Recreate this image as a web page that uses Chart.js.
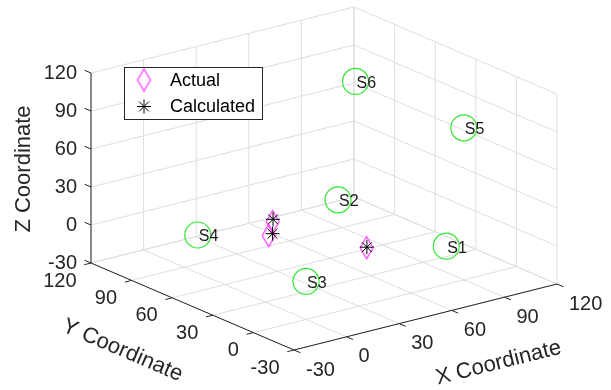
<!DOCTYPE html>
<html>
<head>
<meta charset="utf-8">
<script src="https://cdn.jsdelivr.net/npm/chart.js@4.4.0/dist/chart.umd.min.js"></script>
<style>
html,body{margin:0;padding:0;background:#fff;overflow:hidden}
#wrap{width:611px;height:390px;position:relative}
</style>
</head>
<body>
<div id="wrap"><canvas id="c" width="611" height="390"></canvas></div>
<script>
// ---------------- data ----------------
const axisTicks  = [-30, 0, 30, 60, 90, 120];
const tickLabels = ['-30', '0', '30', '60', '90', '120'];
const axisTitles = ['X Coordinate', 'Y Coordinate', 'Z Coordinate'];
const legendLabels = ['Actual', 'Calculated'];

const sensorNames = ['S1', 'S2', 'S3', 'S4', 'S5', 'S6'];
const sensorX = [80, 80, 0, 0, 90, 90];
const sensorY = [0, 80, 0, 80, 0, 80];
const sensorZ = [0, 0, 0, 0, 90, 90];

const actualX = [25, 35, 50];
const actualY = [60, 70, 20];
const actualZ = [0, 3, 0];

const calcX = [28, 36, 50.4];
const calcY = [61, 71, 20.3];
const calcZ = [0, 4, 0.2];

// ---------------- view (MATLAB default 3-D view, az -37.5, el 30) ----------------
const W = 611, H = 390;
const ORIGIN = [294, 350];       // screen position of the (xmin, ymin, zmin) corner
const EX = [263, -66];           // screen vector of the full x range
const EY = [-203, -87];          // screen vector of the full y range
const EZ = [0, -190];            // screen vector of the full z range
const LO = axisTicks[0], HI = axisTicks[axisTicks.length - 1], SPAN = HI - LO;

function proj(x, y, z) {
  const u = (x - LO) / SPAN, v = (y - LO) / SPAN, w = (z - LO) / SPAN;
  return {
    x: ORIGIN[0] + u * EX[0] + v * EY[0] + w * EZ[0],
    y: ORIGIN[1] + u * EX[1] + v * EY[1] + w * EZ[1]
  };
}
function unit(v, len) { const n = Math.hypot(v[0], v[1]); return [v[0] / n * len, v[1] / n * len]; }

const GRID = '#dedede';
const AXIS = '#262626';
const TEXT = '#262626';
const FONT = '"Liberation Sans", Arial, Helvetica, sans-serif';

const datasets = [];
function lineDS(pts, color, order) {
  datasets.push({
    data: pts, showLine: true, borderColor: color, borderWidth: 1,
    pointRadius: 0, pointHoverRadius: 0, fill: false, tension: 0, order: order
  });
}

// grid lines on the three back planes
axisTicks.forEach(t => {
  // floor z = LO
  lineDS([proj(t, LO, LO), proj(t, HI, LO)], GRID, 30);
  lineDS([proj(LO, t, LO), proj(HI, t, LO)], GRID, 30);
  // back-left wall y = HI
  lineDS([proj(t, HI, LO), proj(t, HI, HI)], GRID, 30);
  lineDS([proj(LO, HI, t), proj(HI, HI, t)], GRID, 30);
  // back-right wall x = HI
  lineDS([proj(HI, t, LO), proj(HI, t, HI)], GRID, 30);
  lineDS([proj(HI, LO, t), proj(HI, HI, t)], GRID, 30);
});

// axis lines
lineDS([proj(LO, HI, LO), proj(LO, HI, HI)], AXIS, 20);  // z axis
lineDS([proj(LO, HI, LO), proj(LO, LO, LO)], AXIS, 20);  // y axis
lineDS([proj(LO, LO, LO), proj(HI, LO, LO)], AXIS, 20);  // x axis

// tick marks
const zTickDir = unit(EY, 7);
const yTickDir = unit([-EX[0], -EX[1]], 7);
const xTickDir = unit([-EY[0], -EY[1]], 7);
axisTicks.forEach(t => {
  const pz = proj(LO, HI, t);
  lineDS([pz, {x: pz.x + zTickDir[0], y: pz.y + zTickDir[1]}], AXIS, 20);
  const py = proj(LO, t, LO);
  lineDS([py, {x: py.x + yTickDir[0], y: py.y + yTickDir[1]}], AXIS, 20);
  const px = proj(t, LO, LO);
  lineDS([px, {x: px.x + xTickDir[0], y: px.y + xTickDir[1]}], AXIS, 20);
});

// custom tall diamond marker (MATLAB 'd')
function makeDiamond() {
  const c = document.createElement('canvas');
  c.width = 17; c.height = 25;
  const g = c.getContext('2d');
  g.strokeStyle = '#ff33ff';
  g.lineWidth = 1.2;
  g.beginPath();
  g.moveTo(8.5, 1.5); g.lineTo(15, 12.5); g.lineTo(8.5, 23.5); g.lineTo(2, 12.5); g.closePath();
  g.stroke();
  return c;
}
const diamondImg = makeDiamond();

// sensors
datasets.push({
  data: sensorX.map((x, i) => proj(x, sensorY[i], sensorZ[i])),
  pointStyle: 'circle', pointRadius: 13, pointHoverRadius: 13,
  borderColor: '#33e633', backgroundColor: 'rgba(0,0,0,0)', borderWidth: 1.2,
  showLine: false, order: 10
});
// actual
datasets.push({
  data: actualX.map((x, i) => proj(x, actualY[i], actualZ[i])),
  pointStyle: diamondImg, pointRadius: 10, pointHoverRadius: 10,
  showLine: false, order: 5
});
// calculated
datasets.push({
  data: calcX.map((x, i) => proj(x, calcY[i], calcZ[i])),
  pointStyle: 'star', pointRadius: 7, pointHoverRadius: 7,
  borderColor: '#000000', backgroundColor: '#000000', borderWidth: 1,
  showLine: false, order: 1
});

// ---------------- text / legend plugin ----------------
const textPlugin = {
  id: 'text3d',
  afterDraw(chart) {
    const ctx = chart.ctx;
    const sx = chart.scales.x, sy = chart.scales.y;
    const P = (p) => ({x: sx.getPixelForValue(p.x), y: sy.getPixelForValue(p.y)});
    ctx.save();

    // sensor labels
    ctx.fillStyle = '#1a1a1a';
    ctx.font = '16px ' + FONT;
    ctx.textAlign = 'left'; ctx.textBaseline = 'middle';
    sensorNames.forEach((n, i) => {
      const p = P(proj(sensorX[i], sensorY[i], sensorZ[i]));
      ctx.fillText(n, p.x + 1, p.y + 2);
    });

    // tick labels
    ctx.fillStyle = TEXT;
    ctx.font = '20px ' + FONT;
    axisTicks.forEach((t, i) => {
      const pz = P(proj(LO, HI, t));
      ctx.textAlign = 'right'; ctx.textBaseline = 'middle';
      ctx.fillText(tickLabels[i], pz.x - 14, pz.y);
      const py = P(proj(LO, t, LO));
      ctx.fillText(tickLabels[i], py.x - 14.5, py.y + 18);
      const px = P(proj(t, LO, LO));
      ctx.textAlign = 'left';
      ctx.fillText(tickLabels[i], px.x + 12, px.y + 20);
    });

    // axis titles
    ctx.font = '22px ' + FONT;
    ctx.textAlign = 'center'; ctx.textBaseline = 'middle';
    const xm = P(proj((LO + HI) / 2, LO, LO));
    ctx.save(); ctx.translate(xm.x + 73, xm.y + 46);
    ctx.rotate(Math.atan2(EX[1], EX[0])); ctx.fillText(axisTitles[0], 0, 0); ctx.restore();
    const ym = P(proj(LO, (LO + HI) / 2, LO));
    ctx.save(); ctx.translate(ym.x - 70, ym.y + 44);
    ctx.rotate(Math.atan2(-EY[1], -EY[0])); ctx.fillText(axisTitles[1], 0, 0); ctx.restore();
    const zm = P(proj(LO, HI, (LO + HI) / 2));
    ctx.save(); ctx.translate(zm.x - 67, zm.y + 1);
    ctx.rotate(-Math.PI / 2); ctx.fillText(axisTitles[2], 0, 0); ctx.restore();

    // legend
    const bx = 124.5, by = 67.5, bw = 138, bh = 52;
    ctx.fillStyle = '#ffffff';
    ctx.fillRect(bx, by, bw, bh);
    ctx.strokeStyle = AXIS; ctx.lineWidth = 1;
    ctx.strokeRect(bx, by, bw, bh);
    ctx.drawImage(diamondImg, 144 - diamondImg.width / 2, 80 - diamondImg.height / 2);
    // asterisk
    const ax = 144, ay = 106.5, r = 7;
    ctx.strokeStyle = '#000'; ctx.lineWidth = 1;
    ctx.beginPath();
    ctx.moveTo(ax - r, ay); ctx.lineTo(ax + r, ay);
    ctx.moveTo(ax, ay - r); ctx.lineTo(ax, ay + r);
    const d = r * Math.SQRT1_2;
    ctx.moveTo(ax - d, ay - d); ctx.lineTo(ax + d, ay + d);
    ctx.moveTo(ax - d, ay + d); ctx.lineTo(ax + d, ay - d);
    ctx.stroke();
    ctx.fillStyle = '#000';
    ctx.font = '18px ' + FONT;
    ctx.textAlign = 'left'; ctx.textBaseline = 'middle';
    ctx.fillText(legendLabels[0], 170, 81);
    ctx.fillText(legendLabels[1], 170, 107);

    ctx.restore();
  }
};

new Chart(document.getElementById('c').getContext('2d'), {
  type: 'scatter',
  data: { datasets },
  options: {
    responsive: false, animation: false, devicePixelRatio: 1,
    layout: { padding: 0, autoPadding: false },
    events: [],
    scales: {
      x: { type: 'linear', min: 0, max: W, display: false },
      y: { type: 'linear', min: 0, max: H, reverse: true, display: false }
    },
    plugins: { legend: { display: false }, tooltip: { enabled: false }, title: { display: false } }
  },
  plugins: [textPlugin]
});
</script>
</body>
</html>
